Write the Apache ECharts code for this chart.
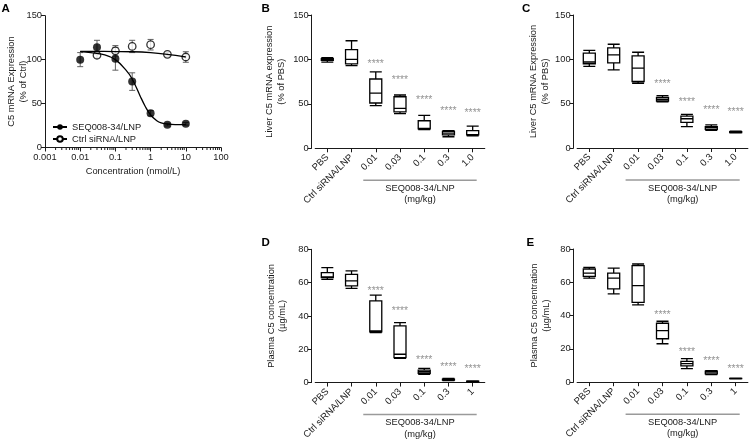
<!DOCTYPE html>
<html>
<head>
<meta charset="utf-8">
<script src="https://cdn.jsdelivr.net/npm/echarts/dist/echarts.min.js"></script>
<style>
html,body{margin:0;padding:0;background:#fff;}
#chart{width:754px;height:442px;}
</style>
</head>
<body>
<div id="chart"></div>
<script>
// ---------- Panel A data ----------
const concSeq = [0.01, 0.03, 0.1, 0.3, 1, 3, 10];
const seqMean = [100, 114, 101, 75, 39, 26, 27];
const seqErr  = [8, 8, 13, 10, 3, 1.5, 1.5];
const concCtrl = [0.03, 0.1, 0.3, 1, 3, 10];
const ctrlMean = [105, 110, 115, 117, 106, 103];
const ctrlErr  = [3, 6, 7, 6, 2, 6];
// fitted curves
const seqFitX = [0.01, 0.02, 0.05, 0.1, 0.2, 0.3, 0.5, 0.7, 1, 1.5, 2, 3, 5, 10];
const seqFitY = [109, 108, 105.5, 100, 88, 78, 59, 47, 37, 30.5, 28, 26.5, 26, 26];
const ctrlFitX = [0.01, 0.1, 0.3, 1, 3, 10];
const ctrlFitY = [109.5, 109.2, 109, 108, 106, 103];
const xTickDecades = [0.001, 0.01, 0.1, 1, 10, 100];

// ---------- Panels B-E data ----------
const catsLiver  = ['PBS', 'Ctrl siRNA/LNP', '0.01', '0.03', '0.1', '0.3', '1.0'];
const catsPlasma = ['PBS', 'Ctrl siRNA/LNP', '0.01', '0.03', '0.1', '0.3', '1'];
// [min, Q1, median, Q3, max]
const liverB = [[97,99,100,101,102],[93,95,100,111,121],[48,51,62,78,86],[39,41,45,58,60],[21,22,22.5,31,37],[13,15,17,19,20],[14,15,15.3,20,25]];
const starsB = [null, null, 98, 80, 58, 45, 43];
const liverC = [[92,95,97,107,110],[88,96,105,113,117],[73,75,90,104,108],[52,53,55,57,59],[24,29,33,36,38],[20,21,23,24,26],[17,17.5,18,18.5,19]];
const starsC = [null, null, null, 75, 55, 46, 44];
const plasmaD = [[62,63,63.5,66,69],[56.5,58,61,65,67],[30,30.5,31,49,52.5],[14.5,15,17,34,36],[5,5.5,6.5,7.5,8.5],[1.2,1.5,1.8,2,2.5],[0.3,0.5,0.6,0.8,1]];
const starsD = [null, null, 57, 44.5, 15.5, 11, 9.6];
const plasmaE = [[62.5,63.5,65.5,68,69],[53,56,62.5,65.5,68.5],[46.5,48,58,70,71],[23.1,26.1,31,35.4,36.6],[8.2,9.8,11.1,12.5,14.1],[4.5,5,6,6.6,7],[2,2.1,2.2,2.3,2.4]];
const starsE = [null, null, null, 42, 20, 14.7, 9.5];

const FF = 'Liberation Sans, Arial, Helvetica, sans-serif';
const FS = 9.3;
const INK = '#1a1a1a';

const chart = echarts.init(document.getElementById('chart'), null, {renderer: 'canvas'});

// minor ticks for log axis (axis decoration)
const minorTickVals = [];
for (let e = -3; e <= 1; e++) for (let m = 2; m <= 9; m++) minorTickVals.push(+(m * Math.pow(10, e)).toPrecision(3));

function valAxis(gridIndex, max, interval, name, nameGap, offset) {
  return {
    type: 'value', gridIndex, min: 0, max, interval, offset: offset || 0,
    name, nameLocation: 'middle', nameGap, nameRotate: 90, nameMoveOverlap: false,
    nameTextStyle: {fontSize: FS, fontFamily: FF, color: INK, lineHeight: 11.5},
    axisLine: {show: true, lineStyle: {color: INK, width: 1}},
    axisTick: {show: true, length: 4, lineStyle: {color: INK}},
    axisLabel: {fontSize: FS, fontFamily: FF, color: INK, margin: 3},
    splitLine: {show: false}
  };
}
function catAxis(gridIndex, cats) {
  return {
    type: 'category', gridIndex, data: cats, boundaryGap: true,
    axisLine: {show: true, lineStyle: {color: INK, width: 1}},
    axisTick: {show: true, alignWithLabel: true, length: 4, lineStyle: {color: INK}},
    axisLabel: {rotate: 45, fontSize: 9.5, fontFamily: FF, color: INK, margin: 7.5, interval: 0},
    splitLine: {show: false}
  };
}
function boxSeries(idx, data) {
  return {
    type: 'boxplot', xAxisIndex: idx, yAxisIndex: idx, data,
    boxWidth: [12, 12],
    itemStyle: {color: '#fff', borderColor: '#000', borderWidth: 1.3},
    emphasis: {disabled: true}, silent: true
  };
}
function starSeries(idx, cats, stars) {
  const d = [];
  stars.forEach((v, i) => { if (v != null) d.push([cats[i], v]); });
  return {
    type: 'scatter', xAxisIndex: idx, yAxisIndex: idx, data: d,
    symbolSize: 1, itemStyle: {color: 'rgba(0,0,0,0)'}, silent: true,
    label: {show: true, position: 'inside', formatter: '****', fontSize: 10.5, fontFamily: FF, color: '#7a7a7a', offset: [0, 3]}
  };
}

const errRender = function (params, api) {
  const x = api.value(0), lo = api.value(1), hi = api.value(2);
  const p1 = api.coord([x, lo]), p2 = api.coord([x, hi]);
  const w = 3;
  const st = {stroke: '#606060', lineWidth: 1};
  return {type: 'group', children: [
    {type: 'line', shape: {x1: p1[0], y1: p1[1], x2: p2[0], y2: p2[1]}, style: st},
    {type: 'line', shape: {x1: p1[0] - w, y1: p1[1], x2: p1[0] + w, y2: p1[1]}, style: st},
    {type: 'line', shape: {x1: p2[0] - w, y1: p2[1], x2: p2[0] + w, y2: p2[1]}, style: st}
  ]};
};

const option = {
  animation: false,
  textStyle: {fontFamily: FF},
  grid: [
    {left: 45, top: 15.7, width: 176, height: 131.8},
    {left: 315.2, top: 15, width: 169.6, height: 133.3},
    {left: 577.1, top: 15, width: 170.8, height: 133},
    {left: 315.2, top: 249.3, width: 169.6, height: 133.4},
    {left: 577.1, top: 249, width: 170.8, height: 133.2}
  ],
  legend: {
    orient: 'vertical', left: 47, top: 117.5, itemWidth: 14, itemHeight: 7, itemGap: 3,
    textStyle: {fontSize: FS, fontFamily: FF, color: INK},
    data: ['SEQ008-34/LNP', 'Ctrl siRNA/LNP'], selectedMode: false
  },
  xAxis: [
    {
      type: 'log', logBase: 10, gridIndex: 0, min: 0.001, max: 100,
      name: 'Concentration (nmol/L)', nameLocation: 'middle', nameGap: 19.5,
      nameTextStyle: {fontSize: FS, fontFamily: FF, color: INK},
      axisLine: {show: true, lineStyle: {color: INK, width: 1}},
      axisTick: {show: true, length: 4, lineStyle: {color: INK}},
      axisLabel: {fontSize: FS, fontFamily: FF, color: INK, margin: 5,
        formatter: v => String(Number(Number(v).toPrecision(3)))},
      splitLine: {show: false}
    },
    catAxis(1, catsLiver),
    catAxis(2, catsLiver),
    catAxis(3, catsPlasma),
    catAxis(4, catsPlasma)
  ],
  yAxis: [
    valAxis(0, 150, 50, 'C5 mRNA Expression\n(% of Ctrl)', 16, 0),
    valAxis(1, 150, 50, 'Liver C5 mRNA expression\n(% of PBS)', 25, 3.5),
    valAxis(2, 150, 50, 'Liver C5 mRNA Expression\n(% of PBS)', 22.5, 3.5),
    valAxis(3, 80, 20, 'Plasma C5 concentration\n(\u00b5g/mL)', 23.5, 3.5),
    valAxis(4, 80, 20, 'Plasma C5 concentration\n(\u00b5g/mL)', 21.5, 3.5)
  ],
  series: [
    // legend-only entries
    {name: 'SEQ008-34/LNP', type: 'line', xAxisIndex: 0, yAxisIndex: 0, data: [],
      symbol: 'circle', symbolSize: 7, itemStyle: {color: '#000'}, lineStyle: {color: '#000', width: 1.3}},
    {name: 'Ctrl siRNA/LNP', type: 'line', xAxisIndex: 0, yAxisIndex: 0, data: [],
      symbol: 'circle', symbolSize: 7, itemStyle: {color: '#fff', borderColor: '#000', borderWidth: 1.3}, lineStyle: {color: '#000', width: 1.3}},
    // minor ticks on log axis
    {type: 'custom', xAxisIndex: 0, yAxisIndex: 0, clip: false, silent: true,
      data: minorTickVals.map(v => [v, 0]), encode: {x: 0, y: 1},
      renderItem: (params, api) => {
        const p = api.coord([api.value(0), 0]);
        return {type: 'line', shape: {x1: p[0], y1: p[1], x2: p[0], y2: p[1] + 2.5}, style: {stroke: INK, lineWidth: 1}};
      }},
    // fitted curves
    {type: 'line', xAxisIndex: 0, yAxisIndex: 0, smooth: 0.4, symbol: 'none', silent: true,
      data: seqFitX.map((x, i) => [x, seqFitY[i]]), lineStyle: {color: '#000', width: 1.3}},
    {type: 'line', xAxisIndex: 0, yAxisIndex: 0, smooth: 0.4, symbol: 'none', silent: true,
      data: ctrlFitX.map((x, i) => [x, ctrlFitY[i]]), lineStyle: {color: '#000', width: 1.3}},
    // error bars
    {type: 'custom', xAxisIndex: 0, yAxisIndex: 0, silent: true, renderItem: errRender, encode: {x: 0, y: [1, 2]},
      data: concSeq.map((x, i) => [x, seqMean[i] - seqErr[i], seqMean[i] + seqErr[i]])},
    {type: 'custom', xAxisIndex: 0, yAxisIndex: 0, silent: true, renderItem: errRender, encode: {x: 0, y: [1, 2]},
      data: concCtrl.map((x, i) => [x, ctrlMean[i] - ctrlErr[i], ctrlMean[i] + ctrlErr[i]])},
    // points
    {type: 'scatter', xAxisIndex: 0, yAxisIndex: 0, silent: true, symbol: 'circle', symbolSize: 7.5,
      itemStyle: {color: '#fff', borderColor: '#000', borderWidth: 1.3},
      data: concCtrl.map((x, i) => [x, ctrlMean[i]])},
    {type: 'scatter', xAxisIndex: 0, yAxisIndex: 0, silent: true, symbol: 'circle', symbolSize: 8,
      itemStyle: {color: '#000'},
      data: concSeq.map((x, i) => [x, seqMean[i]])},
    // box plots
    boxSeries(1, liverB), starSeries(1, catsLiver, starsB),
    boxSeries(2, liverC), starSeries(2, catsLiver, starsC),
    boxSeries(3, plasmaD), starSeries(3, catsPlasma, starsD),
    boxSeries(4, plasmaE), starSeries(4, catsPlasma, starsE)
  ]
};
chart.setOption(option);

// annotations: panel letters, group brackets and group labels
const graphics = [];
const letters = [['A', 1.5, 3], ['B', 261.5, 3], ['C', 522, 3], ['D', 261.5, 236.5], ['E', 526.5, 236.5]];
letters.forEach(([t, x, y]) => graphics.push({type: 'text', left: x, top: y,
  style: {text: t, fontSize: 11.5, fontWeight: 'bold', fontFamily: FF, fill: '#000'}}));
[[1, catsLiver], [2, catsLiver], [3, catsPlasma], [4, catsPlasma]].forEach(([idx, cats]) => {
  const x0 = chart.convertToPixel({xAxisIndex: idx}, cats[2]) - 12.5;
  const x1 = chart.convertToPixel({xAxisIndex: idx}, cats[6]) + 4;
  const yb = chart.convertToPixel({yAxisIndex: idx}, 0);
  const yl = yb + 32;
  const cx = (x0 + x1) / 2;
  graphics.push({type: 'line', shape: {x1: x0, y1: yl, x2: x1, y2: yl}, style: {stroke: '#9a9a9a', lineWidth: 1.5}, silent: true});
  graphics.push({type: 'text', x: cx, y: yb + 40, style: {text: 'SEQ008-34/LNP', fontSize: FS, fontFamily: FF, fill: INK, align: 'center', verticalAlign: 'middle'}});
  graphics.push({type: 'text', x: cx, y: yb + 51.5, style: {text: '(mg/kg)', fontSize: FS, fontFamily: FF, fill: INK, align: 'center', verticalAlign: 'middle'}});
});
chart.setOption({graphic: graphics});
</script>
</body>
</html>
